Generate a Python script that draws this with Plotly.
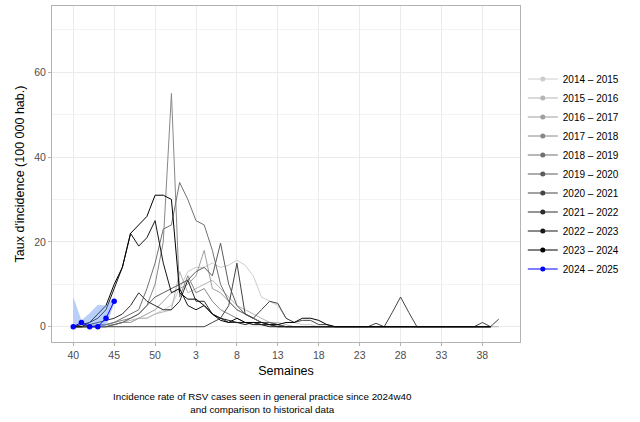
import plotly.graph_objects as go

# ---- data ----
week_labels = [str(w) for w in list(range(40, 53)) + list(range(1, 41))]
tick_idx = [0, 5, 10, 15, 20, 25, 30, 35, 40, 45, 50]

seasons = ["2014 – 2015", "2015 – 2016", "2016 – 2017", "2017 – 2018", "2018 – 2019",
           "2019 – 2020", "2020 – 2021", "2021 – 2022", "2022 – 2023", "2023 – 2024"]

s1415 = [0, 0, 0, 0, 0.5, 0.5, 1, 1, 2, 2, 3, 4, 5, 9, 13, 14, 14, 15, 14, 14.5,
         15.7, 14.5, 12, 7, 6, 5, 2, 1, 0.5, 0.5, 0, 0, 0, 0, 0, 0, 0, 0, 0, 0,
         0, 0, 0, 0, 0, 0, 0, 0, 0, 0, 0, 0]
s1516 = [0, 0, 0, 0, 0, 0.5, 1, 1.5, 2, 2, 3, 3.5, 4, 13, 8, 9, 10, 11, 9, 7,
         5, 4, 3, 2, 1, 1, 0.5, 0, 0, 0, 0, 0, 0, 0, 0, 0, 0, 0, 0, 0,
         0, 0, 0, 0, 0, 0, 0, 0, 0, 0, 0, 0, 0]
s1617 = [0, 0, 0, 0, 0, 0.5, 1, 1, 2, 3, 4, 6, 8, 9, 10, 12, 18, 9, 8, 6,
         4, 3, 2, 1, 0.5, 0.5, 0, 0, 0, 0, 0, 0, 0, 0, 0, 0, 0, 0, 0, 0,
         0, 0, 0, 0, 0, 0, 0, 0, 0, 0, 0, 0]
s1718 = [0, 0, 0, 0, 0.5, 1, 1.5, 2, 3, 5, 10, 20, 55, 7, 12, 8, 9, 6, 4, 3,
         2, 1, 1, 0.5, 0.5, 0, 0, 0, 0, 0, 0, 0, 0, 0, 0, 0, 0, 0, 0, 0,
         0, 0, 0, 0, 0, 0, 0, 0, 0, 0, 0, 0]
s1819 = [0, 0, 0, 0.5, 0.5, 1, 2, 3, 4, 9, 15, 23, 24, 34, 30, 25, 24, 18, 10, 6,
         4, 3, 2, 1, 1, 0.5, 0, 0, 0, 0, 0, 0, 0, 0, 0, 0, 0, 0, 0, 0,
         0, 0, 0, 0, 0, 0, 0, 0, 0, 0, 0, 0]
s1920 = [0, 0, 0, 0, 0, 0.5, 1, 2, 3, 5, 7, 8, 9, 10, 11, 13, 14, 12, 19.7, 10,
         5, 3, 2, 1, 1, 0.5, 0, 0, 0, 0, 0, 0, 0, 0, 0, 0, 0, 0, 0, 0,
         0, 0, 0, 0, 0, 0, 0, 0, 0, 0, 0, 0]
s2021 = [0, 0, 0, 0, 0, 0, 0, 0, 0, 0, 0, 0, 0, 0, 0, 0, 0, 1, 2, 5,
         15, 3, 2, 4, 6, 5.5, 2, 1, 1.5, 1.5, 0.5, 0.5, 0, 0, 0, 0, 0, 0.8, 0, 3.4,
         7, 3.4, 0, 0, 0, 0, 0, 0, 0, 0, 1, 0, 1.8]
s2122 = [0, 0, 0.5, 1, 1.5, 2, 3, 5, 8, 6, 5, 4, 4, 6, 11, 6, 6, 3, 2, 1,
         1, 0.5, 1, 0.5, 0.5, 0, 0, 0, 0, 0, 0, 0, 0, 0, 0, 0, 0, 0, 0, 0,
         0, 0, 0, 0, 0, 0, 0, 0, 0, 0, 0, 0]
s2223 = [0, 0, 1, 2, 4, 9, 14, 22, 19, 21, 25, 15, 8, 9, 5, 4, 5, 3, 2, 1.5,
         1, 1, 0.5, 0.5, 0, 0, 0, 0, 0, 0, 0, 0, 0, 0, 0, 0, 0, 0, 0, 0,
         0, 0, 0, 0, 0, 0, 0, 0, 0, 0, 0, 0]
s2324 = [0, 0.5, 1, 3, 5, 10, 14, 22, 24, 26, 31, 31, 30, 8, 6.5, 6.5, 5, 3, 1.5, 1,
         2, 1, 1, 1, 0.5, 0.5, 1, 1, 2, 2, 1.5, 0.5, 0, 0, 0, 0, 0, 0, 0, 0,
         0, 0, 0, 0, 0, 0, 0, 0, 0, 0, 0, 0]
history = [s1415, s1516, s1617, s1718, s1819, s1920, s2021, s2122, s2223, s2324]
grey_colors = ["#cccccc", "#b5b5b5", "#9f9f9f", "#888888", "#717171",
               "#5b5b5b", "#444444", "#2d2d2d", "#171717", "#000000"]

current_label = "2024 – 2025"
current = [0, 1, 0, 0, 2, 6]
current_lo = [0, 0.5, 0, 0, 0, 5.5]
current_hi = [7, 1.5, 3.2, 5.2, 5, 6.8]

FONT = "Liberation Sans, Arial, sans-serif"

fig = go.Figure()

for name, vals, col in zip(seasons, history, grey_colors):
    fig.add_trace(go.Scatter(x=list(range(len(vals))), y=vals, mode="lines",
                             line=dict(color=col, width=1), showlegend=False,
                             hoverinfo="skip"))

# ribbon for current season
xs = list(range(len(current)))
fig.add_trace(go.Scatter(x=xs + xs[::-1], y=current_hi + current_lo[::-1],
                         fill="toself", fillcolor="rgba(100,149,237,0.45)",
                         line=dict(width=0), mode="lines", showlegend=False,
                         hoverinfo="skip"))
fig.add_trace(go.Scatter(x=xs, y=current, mode="lines+markers",
                         line=dict(color="#0000ff", width=1),
                         marker=dict(color="#0000ff", size=5.5),
                         showlegend=False))

# legend entries (line + point keys)
for name, col in zip(seasons + [current_label], grey_colors + ["#0000ff"]):
    fig.add_trace(go.Scatter(x=[None], y=[None], mode="lines+markers", name=name,
                             line=dict(color=col, width=1),
                             marker=dict(color=col, size=5)))

fig.update_layout(
    width=640, height=422,
    margin=dict(l=52, r=120, t=6, b=80),
    paper_bgcolor="white", plot_bgcolor="white",
    font=dict(family=FONT, color="black"),
    showlegend=True,
    legend=dict(x=1.006, xanchor="left", y=0.5, yanchor="middle",
                font=dict(size=10, color="black"), tracegroupgap=0,
                bgcolor="rgba(0,0,0,0)", itemwidth=30),
    xaxis=dict(range=[-2.6, 54.6], tickmode="array", tickvals=tick_idx,
               ticktext=[week_labels[i] for i in tick_idx],
               showgrid=True, gridcolor="#ebebeb", gridwidth=1, zeroline=False,
               showline=True, mirror=True, linecolor="#b3b3b3", linewidth=1,
               ticks="outside", ticklen=3, tickcolor="#b3b3b3",
               tickfont=dict(size=10.5, color="#4d4d4d", family=FONT),
               title=dict(text="Semaines", font=dict(size=12.5, color="black"), standoff=6)),
    yaxis=dict(range=[-3.6, 75.6], tickmode="array", tickvals=[0, 20, 40, 60],
               showgrid=True, gridcolor="#ebebeb", gridwidth=1, zeroline=False,
               minor=dict(tickvals=[10, 30, 50, 70], showgrid=True,
                          gridcolor="#f3f3f3", gridwidth=1, ticks=""),
               showline=True, mirror=True, linecolor="#b3b3b3", linewidth=1,
               ticks="outside", ticklen=3, tickcolor="#b3b3b3",
               tickfont=dict(size=10.5, color="#4d4d4d", family=FONT),
               title=dict(text="Taux d'incidence (100 000 hab.)",
                          font=dict(size=12.5, color="black"), standoff=6)),
    annotations=[dict(text="Incidence rate of RSV cases seen in general practice since 2024w40<br>and comparison to historical data",
                      xref="paper", yref="paper", x=(262 - 52) / 468, y=-0.14,
                      xanchor="center", yanchor="top", showarrow=False, align="center",
                      font=dict(size=9.8, color="black", family=FONT))],
)

fig.write_html("out.html")
